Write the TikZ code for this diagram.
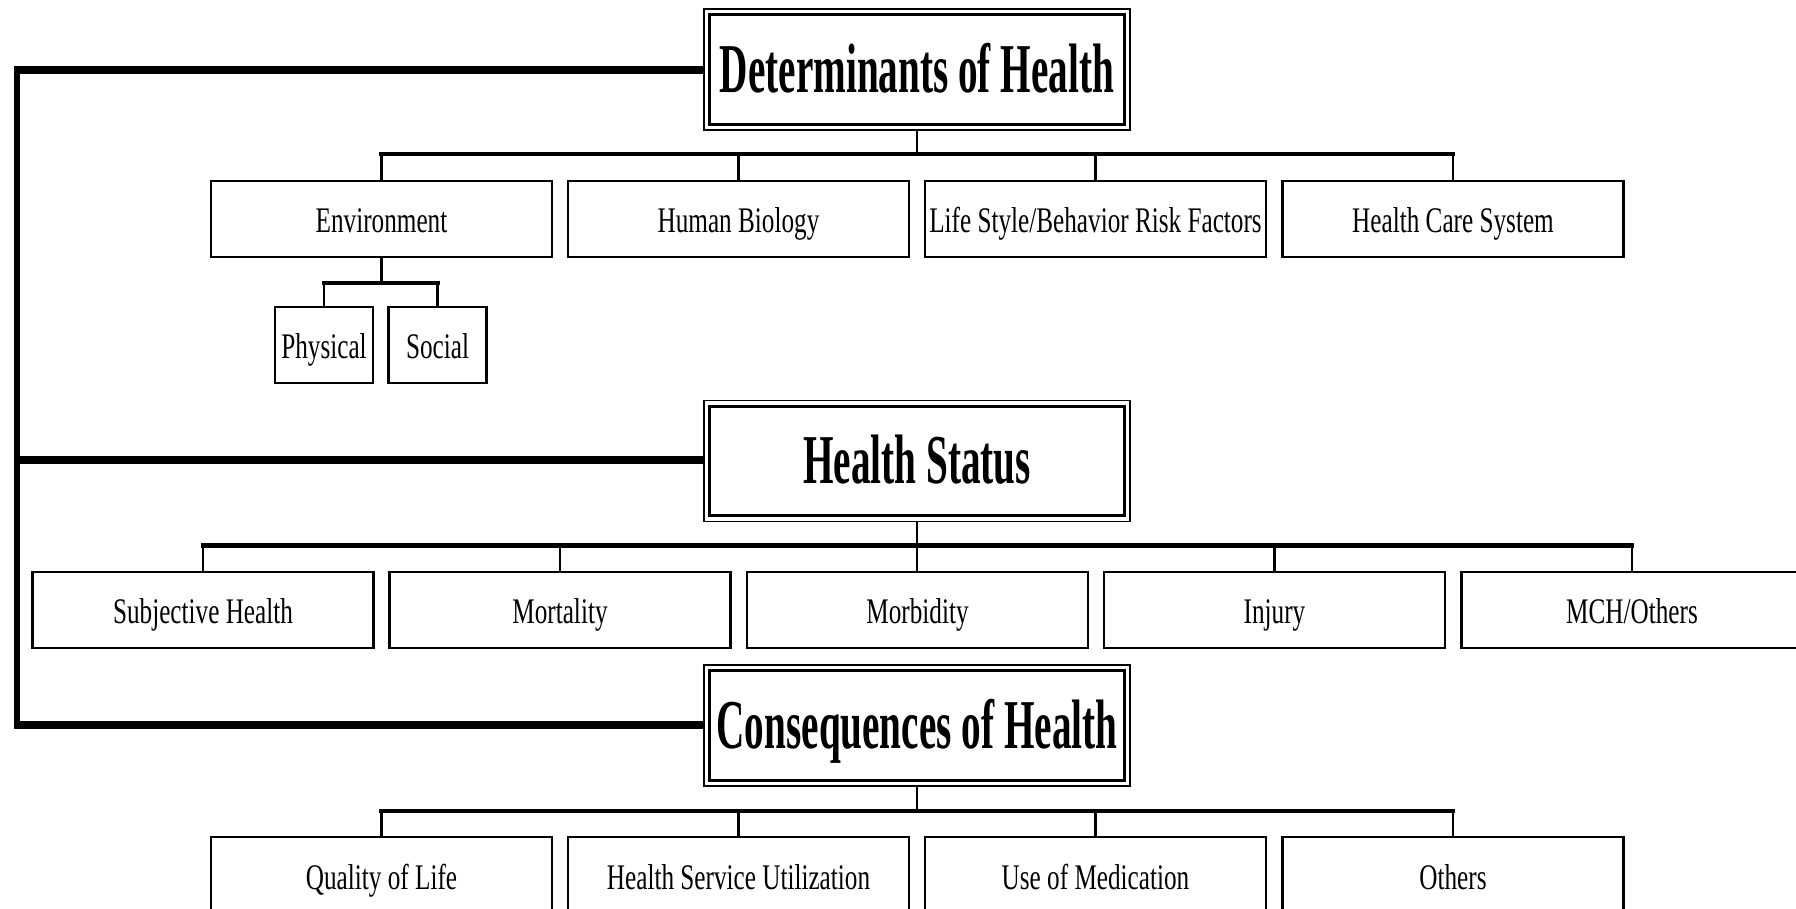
\documentclass[tikz,border=0pt]{standalone}
\usepackage{fontspec}
\setmainfont{Liberation Serif}
\newfontfamily\boxfont{Liberation Serif}[FakeStretch=0.70]
\newfontfamily\titlefont{Liberation Serif}[FakeStretch=0.56]
\begin{document}
\begin{tikzpicture}[x=0.5pt,y=-0.5pt,
  cbox/.style={draw, line width=1.1pt, inner sep=0pt, outer sep=0pt,
    minimum width=170.5pt, minimum height=38pt, text height=14pt, text depth=0pt,
    font=\boxfont\fontsize{18pt}{20pt}\selectfont},
  sbox/.style={cbox, minimum width=49pt},
  tbox/.style={draw, line width=0.7pt, inner sep=0pt, outer sep=0pt,
    minimum width=213pt, minimum height=60.5pt, text height=23pt, text depth=0pt,
    font=\titlefont\bfseries\fontsize{35pt}{38pt}\selectfont},
  innerframe/.style={line width=1.5pt},
  conn/.style={line width=1.4pt},
  hbar/.style={line width=2.2pt, line cap=rect},
  bush/.style={line width=4pt},
  busv/.style={line width=2.6pt}]
\useasboundingbox (0,0) rectangle (1796,909);
\clip (0,0) rectangle (1796,909);

% title boxes
\node[tbox] (det) at (917,69.5) {Determinants of Health};
\node[tbox] (hs) at (917,461) {Health Status};
\node[tbox] (cons) at (917,725.5) {Consequences of Health};
\foreach \t in {det,hs,cons}
  \draw[innerframe] ([xshift=2.6pt,yshift=-2.8pt]\t.north west) rectangle ([xshift=-2.6pt,yshift=2.8pt]\t.south east);

% determinants children
\node[cbox] (env) at (381.5,219) {Environment};
\node[cbox] (hb) at (738.5,219) {Human Biology};
\node[cbox] (ls) at (1095.5,219) {Life Style/Behavior Risk Factors};
\node[cbox] (hc) at (1453,219) {Health Care System};
\node[sbox] (phys) at (324,345) {Physical};
\node[sbox] (soc) at (437.5,345) {Social};

% health status children
\node[cbox] (sh) at (203,610) {Subjective Health};
\node[cbox] (mort) at (560,610) {Mortality};
\node[cbox] (morb) at (917.5,610) {Morbidity};
\node[cbox] (inj) at (1274.5,610) {Injury};
\node[cbox] (mch) at (1632,610) {MCH/Others};

% consequences children
\node[cbox] (ql) at (381.5,875) {Quality of Life};
\node[cbox] (hsu) at (738.5,875) {Health Service Utilization};
\node[cbox] (um) at (1095.5,875) {Use of Medication};
\node[cbox] (oth) at (1453,875) {Others};

% bar levels
\coordinate (bar1) at (0,154);
\coordinate (envbar) at (0,283);
\coordinate (bar2) at (0,545.5);
\coordinate (bar3) at (0,811);
\coordinate (busTop) at (17,70);
\coordinate (busMid) at (17,460);
\coordinate (busBot) at (17,725);

% left bus
\draw[busv] ([yshift=2pt]busTop) -- ([yshift=-2pt]busBot);
\draw[bush] ([xshift=-1.3pt]busTop) -- (busTop -| det.west);
\draw[bush] ([xshift=-1.3pt]busMid) -- (busMid -| hs.west);
\draw[bush] ([xshift=-1.3pt]busBot) -- (busBot -| cons.west);

% tree 1
\draw[conn] (det.south) -- (det.south |- bar1);
\draw[hbar] (env.north |- bar1) -- (hc.north |- bar1);
\foreach \n in {env,hb,ls,hc} \draw[conn] (\n.north |- bar1) -- (\n.north);
\draw[conn] (env.south) -- (env.south |- envbar);
\draw[hbar] (phys.north |- envbar) -- (soc.north |- envbar);
\foreach \n in {phys,soc} \draw[conn] (\n.north |- envbar) -- (\n.north);

% tree 2
\draw[conn] (hs.south) -- (hs.south |- morb.north);
\draw[hbar] (sh.north |- bar2) -- (mch.north |- bar2);
\foreach \n in {sh,mort,inj,mch} \draw[conn] (\n.north |- bar2) -- (\n.north);

% tree 3
\draw[conn] (cons.south) -- (cons.south |- bar3);
\draw[hbar] (ql.north |- bar3) -- (oth.north |- bar3);
\foreach \n in {ql,hsu,um,oth} \draw[conn] (\n.north |- bar3) -- (\n.north);
\end{tikzpicture}
\end{document}
